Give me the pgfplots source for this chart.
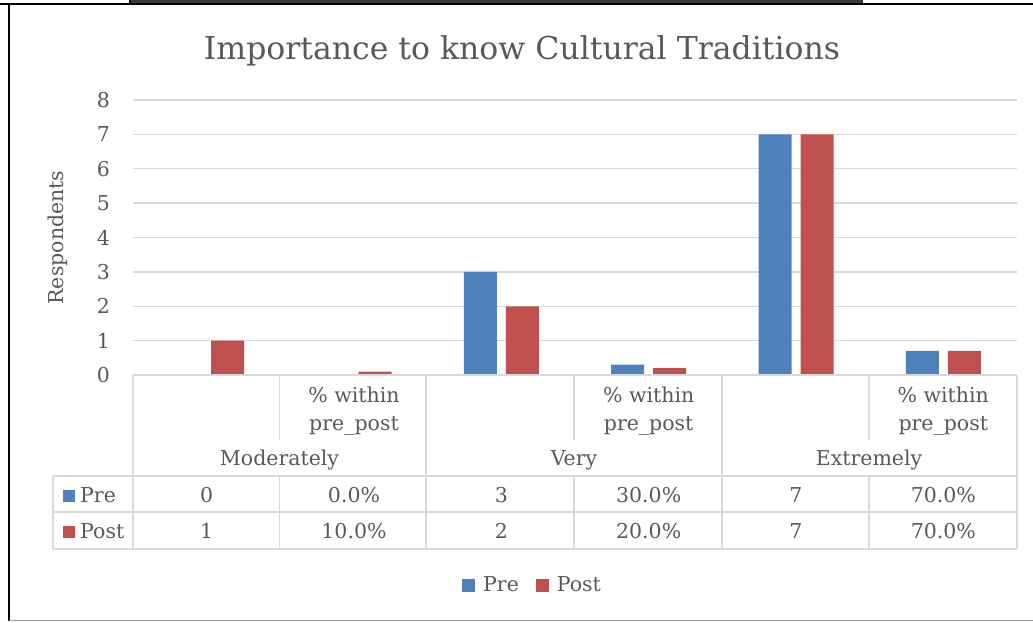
\documentclass[border=0pt]{standalone}
\usepackage{pgfplots}
\pgfplotsset{compat=1.18}
\usepackage{fontspec}
\setmainfont{DejaVu Serif}
\definecolor{txt}{HTML}{595959}
\definecolor{grd}{HTML}{D9D9D9}
\definecolor{cpre}{HTML}{4F81BD}
\definecolor{cpost}{HTML}{C0504D}
\newcommand{\fs}{\fontsize{20.5pt}{24pt}\selectfont}
\begin{document}
\begin{tikzpicture}[x=1pt,y=-1pt]
\useasboundingbox (0,0) rectangle (1033,622);
% outer frame
\fill[gray!45!black] (130,0) rectangle (863,3.5);
\draw[black, line width=2.2pt] (0,3.8) -- (1033,3.8);
\draw[black, line width=1.5pt] (130,0) -- (130,3.8);
\draw[black, line width=2pt] (8.5,3.8) -- (8.5,621);
\draw[black!40, line width=1.3pt] (8.5,620.7) -- (1033,620.7);
\begin{axis}[at={(133pt,-375pt)}, anchor=south west,
  width=884pt, height=275pt, scale only axis,
  ybar, bar width=33pt,
  xmin=-0.5, xmax=5.5, ymin=0, ymax=8,
  ytick={0,1,...,8}, xtick=\empty,
  major tick length=0pt,
  axis line style={draw=none},
  ymajorgrids, grid style={grd, line width=1.3pt},
  tick label style={font=\fs, text=txt},
  /pgf/number format/assume math mode=true,
  yticklabel style={inner sep=0pt, xshift=-23pt},
  ylabel={Respondents},
  ylabel style={font=\fs, text=txt, at={(axis description cs:-0.0848,0.5)}, anchor=center},
  clip=false,
  legend style={at={(axis description cs:0.452,-0.764)}, anchor=center, draw=none, fill=none,
    font=\fs, text=txt, legend columns=2, inner sep=0pt,
    /tikz/every odd column/.append style={column sep=6pt},
    /tikz/every even column/.append style={column sep=15pt}},
  legend image code/.code={\fill[#1] (0pt,-6.5pt) rectangle (13pt,6.5pt);},
]
\addplot[fill=cpre, draw=none, bar shift=-21pt] coordinates {(0,0) (1,0) (2,3) (3,0.3) (4,7) (5,0.7)};
\addplot[fill=cpost, draw=none, bar shift=21pt] coordinates {(0,1) (1,0.1) (2,2) (3,0.2) (4,7) (5,0.7)};
\legend{Pre,Post}
\end{axis}
% data table
\begin{scope}[grd, line width=1.5pt]
\draw (133,375) -- (1017,375);
\draw (53,476) -- (1017,476);
\draw (53,512) -- (1017,512);
\draw (53,549) -- (1017,549);
\draw (53,476) -- (53,549);
\foreach \x in {133,426,722,1017} \draw (\x,375) -- (\x,549);
\foreach \x in {279.5,574,869} {\draw (\x,375) -- (\x,440); \draw (\x,476) -- (\x,549);}
\end{scope}
\begin{scope}[every node/.style={font=\fs, text=txt, anchor=base, inner sep=0pt}]
\foreach \x in {354,648.7,943.3} {\node at (\x,402) {\% within}; \node at (\x,430) {pre\_post};}
\node at (279.5,465) {Moderately};
\node at (574,465) {Very};
\node at (869,465) {Extremely};
\node at (206.7,502) {0}; \node at (354,502) {0.0\%};
\node at (501.3,502) {3}; \node at (648.7,502) {30.0\%};
\node at (796,502) {7}; \node at (943.3,502) {70.0\%};
\node at (206.7,538) {1}; \node at (354,538) {10.0\%};
\node at (501.3,538) {2}; \node at (648.7,538) {20.0\%};
\node at (796,538) {7}; \node at (943.3,538) {70.0\%};
\node[anchor=base west] at (80,502) {Pre};
\node[anchor=base west] at (80,538) {Post};
\end{scope}
\fill[cpre] (63,489.5) rectangle (75,501.5);
\fill[cpost] (63,525.5) rectangle (75,537.5);
\node[font=\fontsize{31.5pt}{36pt}\selectfont, text=txt, anchor=base, inner sep=0pt] at (522,59) {Importance to know Cultural Traditions};
\end{tikzpicture}
\end{document}
